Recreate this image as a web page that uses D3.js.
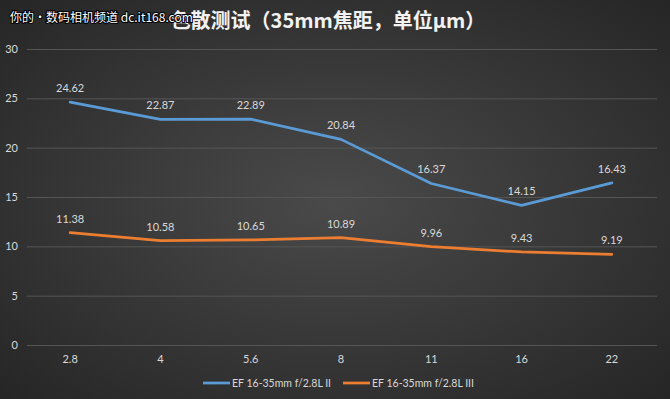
<!DOCTYPE html>
<html>
<head>
<meta charset="utf-8">
<script src="https://cdn.jsdelivr.net/npm/d3@7"></script>
<style>
  html, body { margin: 0; padding: 0; background: #333; }
  svg { display: block; font-family: Lato, "Noto Sans CJK SC", sans-serif; }
  .grid line { stroke: #555; stroke-width: 1; }
  .tick-label { fill: #d9d9d9; font-size: 11px; }
  .data-label { fill: #d9d9d9; font-size: 11px; text-anchor: middle; }
  .legend-label { fill: #d9d9d9; font-size: 10.5px; }
</style>
</head>
<body>
<div id="chart"></div>
<script>
const width = 670;
const height = 399;
const margins = {top: 49, right: 13, bottom: 54, left: 25};

// chart data
const apertures = ['2.8', '4', '5.6', '8', '11', '16', '22'];
const seriesNames = ['EF 16-35mm f/2.8L II', 'EF 16-35mm f/2.8L III'];
const valuesII = [24.62, 22.87, 22.89, 20.84, 16.37, 14.15, 16.43];
const valuesIII = [11.38, 10.58, 10.65, 10.89, 9.96, 9.43, 9.19];
const yTicks = [0, 5, 10, 15, 20, 25, 30];
const colors = ['#5b9bd5', '#ed7d31'];

const series = [
  {name: seriesNames[0], values: valuesII, color: colors[0]},
  {name: seriesNames[1], values: valuesIII, color: colors[1]}
];

const svg = d3.select('#chart')
              .append('svg')
              .attr('width', width)
              .attr('height', height);

// dark radial background
const defs = svg.append('defs');
const grad = defs.append('radialGradient')
                 .attr('id', 'bg')
                 .attr('cx', '50%').attr('cy', '50%').attr('r', '70%');
grad.append('stop').attr('offset', '0%').attr('stop-color', '#4a4a4a');
grad.append('stop').attr('offset', '100%').attr('stop-color', '#262626');
svg.append('rect')
   .attr('width', width)
   .attr('height', height)
   .attr('fill', 'url(#bg)');

const x = d3.scaleBand()
            .domain(apertures)
            .range([margins.left, width - margins.right]);

const y = d3.scaleLinear()
            .domain([0, 30])
            .range([height - margins.bottom, margins.top]);

// horizontal gridlines
svg.append('g')
   .attr('class', 'grid')
   .selectAll('line')
   .data(yTicks)
   .enter()
   .append('line')
   .attr('x1', margins.left + 2)
   .attr('x2', width - margins.right)
   .attr('y1', (d) => y(d) + 0.5)
   .attr('y2', (d) => y(d) + 0.5);

// y-axis labels
svg.append('g')
   .selectAll('text')
   .data(yTicks)
   .enter()
   .append('text')
   .attr('class', 'tick-label')
   .attr('text-anchor', 'end')
   .attr('x', 18)
   .attr('y', (d) => y(d) + 4)
   .text((d) => d);

// x-axis labels
svg.append('g')
   .selectAll('text')
   .data(apertures)
   .enter()
   .append('text')
   .attr('class', 'tick-label')
   .attr('text-anchor', 'middle')
   .attr('x', (d) => x(d) + x.bandwidth() / 2)
   .attr('y', height - margins.bottom + 18)
   .text((d) => d);

const line = d3.line()
               .x((d, i) => x(apertures[i]) + x.bandwidth() / 2)
               .y((d) => y(d));

series.forEach(function(s) {
  svg.append('path')
     .datum(s.values)
     .attr('fill', 'none')
     .attr('stroke', s.color)
     .attr('stroke-width', 2.75)
     .attr('stroke-linejoin', 'round')
     .attr('stroke-linecap', 'round')
     .attr('d', line);

  // value labels above each point
  svg.append('g')
     .selectAll('text')
     .data(s.values)
     .enter()
     .append('text')
     .attr('class', 'data-label')
     .attr('x', (d, i) => x(apertures[i]) + x.bandwidth() / 2)
     .attr('y', (d) => y(d) - 10)
     .text((d) => d.toFixed(2));
});

// legend
const legendY = 383;
const legendX = [203, 343];
series.forEach(function(s, i) {
  svg.append('line')
     .attr('x1', legendX[i])
     .attr('x2', legendX[i] + 27)
     .attr('y1', legendY)
     .attr('y2', legendY)
     .attr('stroke', s.color)
     .attr('stroke-width', 2.75);
  svg.append('text')
     .attr('class', 'legend-label')
     .attr('x', legendX[i] + 29)
     .attr('y', legendY + 4)
     .text(s.name);
});

// title
svg.append('text')
   .attr('x', 328)
   .attr('y', 28)
   .attr('text-anchor', 'middle')
   .attr('fill', '#f2f2f2')
   .attr('font-size', '20px')
   .attr('font-weight', 'bold')
   .attr('font-family', '"Noto Sans CJK SC", sans-serif')
   .text('色散测试（35mm焦距，单位μm）');

// watermark
svg.append('text')
   .attr('x', 10)
   .attr('y', 22)
   .attr('fill', '#ffffff')
   .attr('stroke', '#000')
   .attr('stroke-width', 2)
   .attr('paint-order', 'stroke')
   .attr('font-size', '12px')
   .attr('font-family', '"Noto Sans CJK SC", sans-serif')
   .text('你的•数码相机频道 dc.it168.com');
</script>
</body>
</html>
